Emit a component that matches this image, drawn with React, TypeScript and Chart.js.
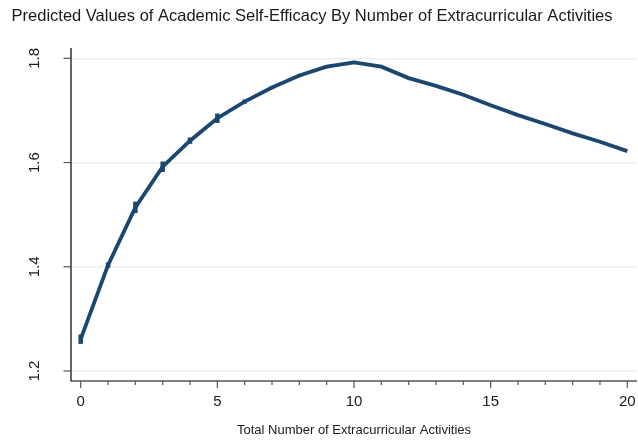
import React, { useEffect, useRef } from "react";
import { Chart, registerables } from "chart.js";

Chart.register(...registerables);

const TITLE = "Predicted Values of Academic Self-Efficacy By Number of Extracurricular Activities";
const X_TITLE = "Total Number of Extracurricular Activities";
const activities = [0, 1, 2, 3, 4, 5, 6, 7, 8, 9, 10, 11, 12, 13, 14, 15, 16, 17, 18, 19, 20];
const predicted = [1.261, 1.403, 1.514, 1.592, 1.642, 1.685, 1.717, 1.744, 1.767, 1.784, 1.792, 1.784, 1.762, 1.747, 1.730, 1.710, 1.691, 1.674, 1.656, 1.640, 1.622];
const ciLower = [1.252, 1.398, 1.503, 1.582, 1.636, 1.676, 1.713, 1.741, 1.764, 1.781, 1.789, null, null, null, null, null, null, null, null, null, null];
const ciUpper = [1.270, 1.408, 1.525, 1.602, 1.648, 1.694, 1.721, 1.747, 1.770, 1.787, 1.795, null, null, null, null, null, null, null, null, null, null];
const yTicks = [1.2, 1.4, 1.6, 1.8];
const xMajorTicks = [0, 5, 10, 15, 20];
const xMinorTicks = activities;

const LINE_COLOR = "#1a476f";
const FONT = "Arial, 'Liberation Sans', sans-serif";

const decorPlugin = {
  id: "decor",
  beforeDatasetsDraw(chart: any) {
    const ctx = chart.ctx;
    const xs = chart.scales.x;
    const ys = chart.scales.y;
    ctx.save();
    ctx.strokeStyle = LINE_COLOR;
    ctx.lineWidth = 4.5;
    ctx.lineCap = "butt";
    activities.forEach((a, i) => {
      const lo = ciLower[i];
      const hi = ciUpper[i];
      if (lo == null || hi == null) return;
      const px = xs.getPixelForValue(a);
      ctx.beginPath();
      ctx.moveTo(px, ys.getPixelForValue(lo));
      ctx.lineTo(px, ys.getPixelForValue(hi));
      ctx.stroke();
    });
    ctx.restore();
  },
  afterDraw(chart: any) {
    const ctx = chart.ctx;
    const { left, right, top, bottom } = chart.chartArea;
    const xs = chart.scales.x;
    const ys = chart.scales.y;
    ctx.save();
    ctx.strokeStyle = "#000";
    ctx.lineWidth = 1.2;
    ctx.beginPath();
    ctx.moveTo(left, top);
    ctx.lineTo(left, bottom);
    ctx.lineTo(right, bottom);
    ctx.stroke();
    ctx.strokeStyle = "#555";
    yTicks.forEach((v) => {
      const py = ys.getPixelForValue(v);
      ctx.beginPath();
      ctx.moveTo(left - 7.5, py);
      ctx.lineTo(left, py);
      ctx.stroke();
    });
    xMinorTicks.forEach((v) => {
      const px = xs.getPixelForValue(v);
      const major = xMajorTicks.includes(v);
      ctx.beginPath();
      ctx.moveTo(px, bottom);
      ctx.lineTo(px, bottom + (major ? 7 : 4));
      ctx.stroke();
    });
    ctx.fillStyle = "#1a1a1a";
    ctx.font = `15px ${FONT}`;
    ctx.textAlign = "center";
    ctx.textBaseline = "middle";
    xMajorTicks.forEach((v) => {
      ctx.fillText(String(v), xs.getPixelForValue(v), bottom + 21);
    });
    yTicks.forEach((v) => {
      const py = ys.getPixelForValue(v);
      ctx.save();
      ctx.translate(left - 36, py);
      ctx.rotate(-Math.PI / 2);
      ctx.fillText(v.toFixed(1), 0, 0);
      ctx.restore();
    });
    ctx.font = `13px ${FONT}`;
    ctx.fillText(X_TITLE, (left + right) / 2, 430);
    ctx.font = `16.5px ${FONT}`;
    ctx.fillText(TITLE, 312, 16);
    ctx.restore();
  },
};

export default function App() {
  const ref = useRef<HTMLCanvasElement>(null);
  useEffect(() => {
    document.body.style.margin = "0";
    const canvas = ref.current!;
    const chart = new Chart(canvas, {
      type: "line",
      data: {
        labels: activities,
        datasets: [
          {
            data: activities.map((a, i) => ({ x: a, y: predicted[i] })),
            borderColor: LINE_COLOR,
            borderWidth: 3.8,
            pointRadius: 0,
            tension: 0,
            fill: false,
          },
        ],
      },
      options: {
        responsive: false,
        animation: false,
        layout: { padding: { left: 71, top: 48, right: 1, bottom: 60 } },
        plugins: { legend: { display: false }, tooltip: { enabled: false }, title: { display: false } },
        scales: {
          x: {
            type: "linear",
            min: -0.355,
            max: 20.355,
            grid: { display: false },
            border: { display: false },
            ticks: { display: false },
            afterFit: (s: any) => { s.height = 0; },
          },
          y: {
            type: "linear",
            min: 1.1808,
            max: 1.8198,
            afterBuildTicks: (s: any) => { s.ticks = yTicks.map((v) => ({ value: v })); },
            grid: { color: "#e7eef1", lineWidth: 1.5, drawTicks: false },
            border: { display: false },
            ticks: { display: false },
            afterFit: (s: any) => { s.width = 0; },
          },
        },
      },
      plugins: [decorPlugin],
    });
    return () => chart.destroy();
  }, []);
  return <canvas ref={ref} width={638} height={441} style={{ display: "block" }} />;
}
